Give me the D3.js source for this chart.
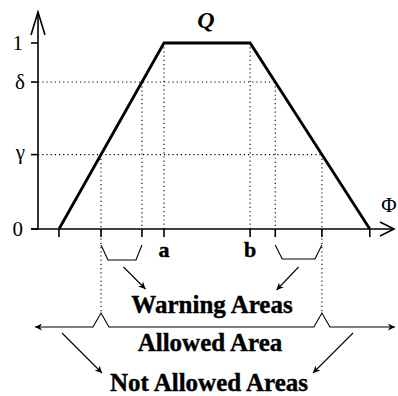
<!DOCTYPE html>
<html lang="en">
<head>
  <meta charset="UTF-8">
  <title>Q(Phi) areas</title>
  <script src="https://d3js.org/d3.v7.min.js"></script>
  <style>
    body { margin: 0; background: #fff; }
    text { font-family: "Liberation Serif", "Times New Roman", serif; fill: #000; }
    .lbl { font-size: 25px; font-weight: bold; text-anchor: middle; stroke: #000; stroke-width: 0.4; }
    .tick { font-size: 21px; text-anchor: end; }
    .dot { stroke: #000; stroke-width: 1.1; stroke-dasharray: 1.2,3; fill: none; }
    .thin { stroke: #000; stroke-width: 1.1; fill: none; }
  </style>
</head>
<body>
  <svg width="398" height="396"></svg>
  <script>
    // trapezoid corners (phi) and their Q values
    const phiCorners = [1, 6, 10.1, 15.8];
    const qCorners = [0, 1, 1, 0];
    // Q levels marked on the vertical axis
    const qLevels = [1, 0.79, 0.4, 0];
    const qLabels = ['1', 'δ', 'γ', '0'];
    const gamma = 0.4, delta = 0.79;

    const svg = d3.select('svg');

    const x = d3.scaleLinear().domain([0, 17]).range([38, 395]);
    const y = d3.scaleLinear().domain([0, 1]).range([229, 43]);

    svg.append('defs').append('marker')
      .attr('id', 'ah')
      .attr('viewBox', '0 0 10 10')
      .attr('refX', 10).attr('refY', 5)
      .attr('markerWidth', 9).attr('markerHeight', 7)
      .attr('markerUnits', 'userSpaceOnUse')
      .attr('orient', 'auto-start-reverse')
      .append('path').attr('d', 'M0,0L10,5L0,10L3,5Z').attr('fill', '#000');

    // phi where the trapezoid crosses a Q level
    const leftAt = q => phiCorners[0] + q * (phiCorners[1] - phiCorners[0]);
    const rightAt = q => phiCorners[3] - q * (phiCorners[3] - phiCorners[2]);

    const gL = x(leftAt(gamma)), dL = x(leftAt(delta));
    const dR = x(rightAt(delta)), gR = x(rightAt(gamma));
    const x0 = x(0), yAxis = y(0);

    // dotted guides
    const dots = [
      [x0, y(delta), dR, y(delta)],
      [x0, y(gamma), gR, y(gamma)],
      [x(phiCorners[1]), y(1), x(phiCorners[1]), yAxis],
      [x(phiCorners[2]), y(1), x(phiCorners[2]), yAxis],
      [dL, y(delta), dL, yAxis],
      [dR, y(delta), dR, yAxis],
      [gL, y(gamma), gL, 313],
      [gR, y(gamma), gR, 313]
    ];
    svg.selectAll('.dot').data(dots).enter().append('line')
      .attr('class', 'dot')
      .attr('x1', d => d[0]).attr('y1', d => d[1])
      .attr('x2', d => d[2]).attr('y2', d => d[3]);

    // axes
    const ax = svg.append('g').attr('stroke', '#000').attr('fill', 'none').attr('stroke-width', 1.6);
    ax.append('line').attr('x1', x0).attr('y1', yAxis).attr('x2', x0).attr('y2', 12);
    ax.append('path').attr('d', `M${x0 - 7},35L${x0},12L${x0 + 7},35`);
    ax.append('line').attr('x1', 31).attr('y1', yAxis).attr('x2', x(17) - 1).attr('y2', yAxis);
    ax.append('path').attr('d', `M${x(17) - 15},222L${x(17) - 1},${yAxis}L${x(17) - 15},236`);

    qLevels.forEach((q, i) => {
      ax.append('line').attr('x1', 31).attr('x2', x0).attr('y1', y(q)).attr('y2', y(q));
      svg.append('text').attr('class', 'tick')
        .attr('x', i === 0 || i === 3 ? 23 : 25)
        .attr('y', y(q) + (i === 2 ? 4 : 7))
        .text(qLabels[i]);
    });

    const tickPhis = [phiCorners[0], leftAt(gamma), leftAt(delta), phiCorners[1],
      phiCorners[2], rightAt(delta), rightAt(gamma), phiCorners[3]];
    tickPhis.forEach(p => {
      ax.append('line').attr('x1', x(p)).attr('x2', x(p)).attr('y1', yAxis).attr('y2', yAxis + 8);
    });

    // trapezoid
    const line = d3.line().x(d => x(d[0])).y(d => y(d[1]));
    svg.append('path')
      .datum(phiCorners.map((p, i) => [p, qCorners[i]]))
      .attr('d', line)
      .attr('fill', 'none').attr('stroke', '#000').attr('stroke-width', 2.8)
      .attr('stroke-linejoin', 'miter');

    svg.append('text').attr('x', 206).attr('y', 28)
      .style('font-size', '24px').style('font-weight', 'bold').style('font-style', 'italic')
      .attr('text-anchor', 'middle').text('Q');
    svg.append('text').attr('x', 389).attr('y', 212)
      .style('font-size', '21px').attr('text-anchor', 'middle').text('Φ');
    svg.append('text').attr('class', 'lbl').style('font-size', '22px')
      .attr('x', x(phiCorners[1])).attr('y', 257).text('a');
    svg.append('text').attr('class', 'lbl').style('font-size', '22px')
      .attr('x', x(phiCorners[2])).attr('y', 257).text('b');

    // warning brackets
    svg.append('path').attr('class', 'thin')
      .attr('d', `M${gL},245L${gL + 7},260L${dL - 6},260L${dL},245`);
    svg.append('path').attr('class', 'thin')
      .attr('d', `M${dR},245L${dR + 7},259L${gR - 7},259L${gR},245`);

    // allowed line with bumps
    const ay = 327;
    svg.append('path').attr('class', 'thin')
      .attr('marker-start', 'url(#ah)').attr('marker-end', 'url(#ah)')
      .attr('d', `M35,${ay}L${gL - 8},${ay}L${gL},313L${gL + 8},${ay}L${gR - 8},${ay}L${gR},313L${gR + 8},${ay}L395,${ay}`);

    // pointer arrows
    const arrows = [
      [(gL + dL) / 2 + 2, 267, (gL + dL) / 2 + 24, 289],
      [(dR + gR) / 2 + 0, 267, (dR + gR) / 2 - 22, 290],
      [62, 333, 102, 373],
      [353, 333, 313, 373]
    ];
    svg.selectAll('.arr').data(arrows).enter().append('line')
      .attr('class', 'thin arr')
      .attr('marker-end', 'url(#ah)')
      .attr('x1', d => d[0]).attr('y1', d => d[1])
      .attr('x2', d => d[2]).attr('y2', d => d[3]);

    svg.append('text').attr('class', 'lbl').attr('x', 212).attr('y', 313).text('Warning Areas');
    svg.append('text').attr('class', 'lbl').attr('x', 210).attr('y', 351).text('Allowed Area');
    svg.append('text').attr('class', 'lbl').attr('x', 209).attr('y', 391).text('Not Allowed Areas');
  </script>
</body>
</html>
